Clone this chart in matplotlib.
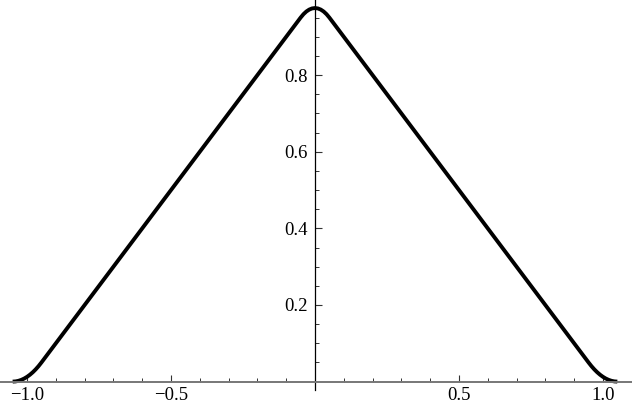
import matplotlib
matplotlib.use("Agg")
import matplotlib.pyplot as plt
from matplotlib.ticker import FixedLocator, NullFormatter

# values (smoothed triangle)
x_vals = [-1.05, -1.04, -1.03, -1.02, -1.01, -1.00, -0.99, -0.98, -0.97, -0.96, -0.95,
          -0.05, -0.04, -0.03, -0.02, -0.01, 0.00, 0.01, 0.02, 0.03, 0.04, 0.05,
          0.95, 0.96, 0.97, 0.98, 0.99, 1.00, 1.01, 1.02, 1.03, 1.04, 1.05]
y_vals = [0.0, 0.0005, 0.002, 0.0045, 0.008, 0.0125, 0.018, 0.0245, 0.032, 0.0405, 0.05,
          0.95, 0.959, 0.966, 0.971, 0.974, 0.975, 0.974, 0.971, 0.966, 0.959, 0.95,
          0.05, 0.0405, 0.032, 0.0245, 0.018, 0.0125, 0.008, 0.0045, 0.002, 0.0005, 0.0]

x_major = [-1.0, -0.5, 0.5, 1.0]
x_minor = [-0.9, -0.8, -0.7, -0.6, -0.4, -0.3, -0.2, -0.1, 0.1, 0.2, 0.3, 0.4, 0.6, 0.7, 0.8, 0.9]
y_major = [0.2, 0.4, 0.6, 0.8]
y_minor = [0.05, 0.1, 0.15, 0.25, 0.3, 0.35, 0.45, 0.5, 0.55, 0.65, 0.7, 0.75, 0.85, 0.9, 0.95]

plt.rcParams['font.family'] = ['Liberation Serif', 'DejaVu Serif']

fig = plt.figure(figsize=(6.32, 4.0), dpi=100)
ax = fig.add_axes([0, 0, 1, 1])
ax.set_xlim(-1.094, 1.101)
ax.set_ylim(-0.048, 0.996)

ax.plot(x_vals, y_vals, color='black', lw=2.8, solid_capstyle='butt', solid_joinstyle='round')

# axes through the origin, Mathematica style
for s in ['top', 'right']:
    ax.spines[s].set_visible(False)
ax.spines['left'].set_position(('data', 0))
ax.spines['bottom'].set_position(('data', 0))
ax.spines['left'].set_bounds(-0.021, 0.996)
ax.spines['left'].set_color('black')
ax.spines['left'].set_linewidth(0.9)
ax.spines['bottom'].set_color('#777777')
ax.spines['bottom'].set_linewidth(1.4)

ax.xaxis.set_major_locator(FixedLocator(x_major))
ax.xaxis.set_minor_locator(FixedLocator(x_minor))
ax.yaxis.set_major_locator(FixedLocator(y_major))
ax.yaxis.set_minor_locator(FixedLocator(y_minor))
ax.xaxis.set_minor_formatter(NullFormatter())
ax.yaxis.set_minor_formatter(NullFormatter())
ax.set_xticklabels(['\u22121.0', '\u22120.5', '0.5', '1.0'])
ax.set_yticklabels(['0.2', '0.4', '0.6', '0.8'])

ax.tick_params(axis='both', which='major', direction='in', length=5, width=0.8,
               color='#333333', labelsize=13.5, pad=5)
ax.tick_params(axis='both', which='minor', direction='in', length=3, width=0.7,
               color='#333333')
ax.tick_params(axis='x', which='major', pad=4)

fig.savefig('out.png', dpi=100)
